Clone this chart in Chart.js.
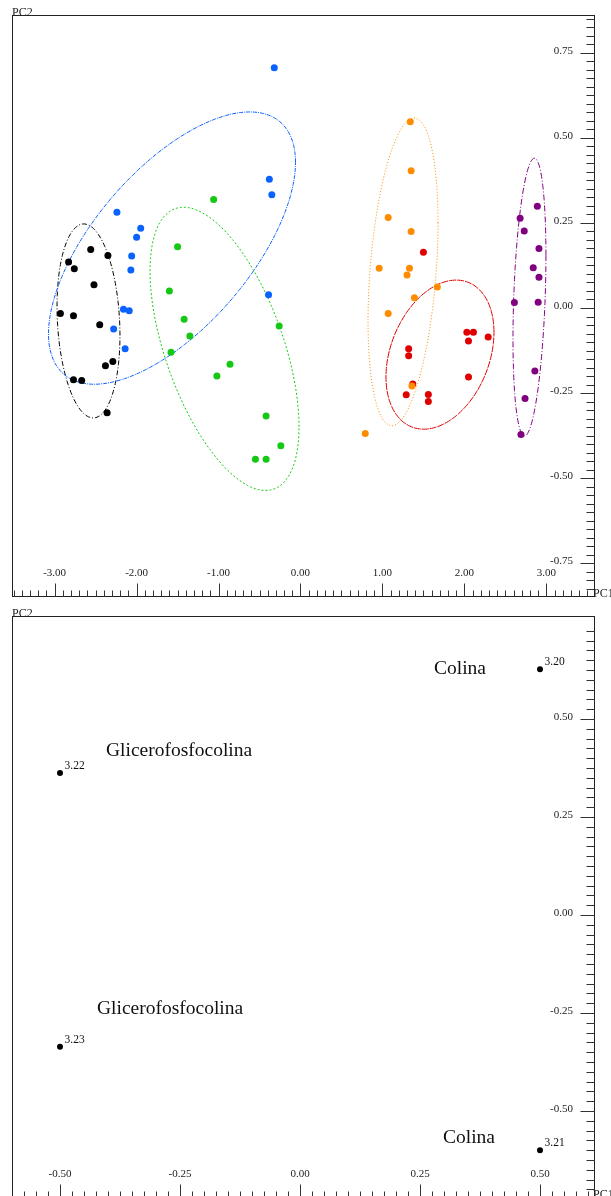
<!DOCTYPE html>
<html>
<head>
<meta charset="utf-8">
<script src="https://cdn.jsdelivr.net/npm/chart.js@4/dist/chart.umd.min.js"></script>
<style>
  html, body { margin: 0; padding: 0; background: #fff; overflow: hidden; width: 611px; height: 1196px; }
  canvas { position: absolute; left: 0; }
  #scores { top: 0; }
  #loadings { top: 600px; }
</style>
</head>
<body>
<canvas id="scores" width="611" height="600"></canvas>
<canvas id="loadings" width="611" height="605"></canvas>
<script>
'use strict';

// scores: PC1 / PC2 per group
const pc1Black = [-2.83, -2.76, -2.56, -2.35, -2.52, -2.93, -2.77, -2.45, -2.29, -2.38, -2.77, -2.67, -2.36];
const pc2Black = [0.135, 0.115, 0.172, 0.154, 0.068, -0.016, -0.023, -0.049, -0.157, -0.170, -0.211, -0.213, -0.308];
const pc1Blue = [-0.32, -0.38, -0.35, -2.24, -1.95, -2.00, -2.06, -2.07, -0.39, -2.16, -2.09, -2.28, -2.14];
const pc2Blue = [0.706, 0.378, 0.333, 0.281, 0.234, 0.208, 0.153, 0.112, 0.039, -0.004, -0.008, -0.062, -0.120];
const pc1Green = [-1.06, -1.50, -1.60, -1.42, -0.26, -1.35, -1.58, -0.86, -1.02, -0.42, -0.24, -0.55, -0.42];
const pc2Green = [0.319, 0.180, 0.050, -0.033, -0.053, -0.082, -0.130, -0.165, -0.200, -0.317, -0.405, -0.444, -0.444];
const pc1Orange = [1.34, 1.35, 1.07, 1.35, 0.96, 1.33, 1.30, 1.67, 1.39, 1.07, 1.36, 0.79];
const pc2Orange = [0.547, 0.403, 0.266, 0.225, 0.117, 0.117, 0.097, 0.062, 0.030, -0.016, -0.229, -0.369];
const pc1Red = [1.50, 2.03, 2.11, 2.05, 2.29, 1.32, 1.32, 2.05, 1.29, 1.56, 1.56, 1.37];
const pc2Red = [0.164, -0.071, -0.071, -0.097, -0.085, -0.120, -0.140, -0.203, -0.255, -0.254, -0.275, -0.223];
const pc1Purple = [2.89, 2.68, 2.73, 2.91, 2.84, 2.91, 2.61, 2.90, 2.86, 2.74, 2.69];
const pc2Purple = [0.299, 0.264, 0.226, 0.175, 0.118, 0.090, 0.016, 0.017, -0.185, -0.266, -0.372];

// confidence ellipses (black, blue, green, orange, red, purple)
const ellipseCx = [-2.587, -1.568, -0.927, 1.251, 1.702, 2.794];
const ellipseCy = [-0.038, 0.176, -0.120, 0.106, -0.137, 0.032];
const ellipseRx = [0.384, 1.507, 0.909, 0.427, 0.659, 0.201];
const ellipseRy = [0.285, 0.400, 0.416, 0.452, 0.219, 0.408];
const ellipseRho = [-0.15, 0.63, -0.55, 0.32, 0.30, 0.30];

// loadings
const loadingIds = ['3.20', '3.21', '3.22', '3.23'];
const loadingNames = ['Colina', 'Colina', 'Glicerofosfocolina', 'Glicerofosfocolina'];
const pc1Loadings = [0.50, 0.50, -0.50, -0.50];
const pc2Loadings = [0.627, -0.600, 0.362, -0.336];

// tick labels
const scoreXTicks = [-3, -2, -1, 0, 1, 2, 3];
const scoreYTicks = [-0.75, -0.5, -0.25, 0, 0.25, 0.5, 0.75];
const loadXTicks = [-0.5, -0.25, 0, 0.25, 0.5];
const loadYTicks = [-0.5, -0.25, 0, 0.25, 0.5];

const SERIF = '"Liberation Serif", "Times New Roman", serif';
const colors = ['#000000', '#0a62ff', '#14c814', '#ff8c00', '#e00000', '#800080'];
const dashes = [[5, 2, 1, 2], [4, 1, 1, 1], [2, 2], [1, 2], [7, 1], [6, 2, 1, 2]];

const toPoints = (xs, ys) => xs.map((x, i) => ({x: x, y: ys[i]}));

// frame, tick marks and labels drawn off the chart's own scales
const axisFrame = {
  id: 'axisFrame',
  afterDraw(chart, args, o) {
    const {ctx, chartArea: a, scales: {x, y}} = chart;
    const near = (v, step) => Math.abs(v / step - Math.round(v / step)) < 1e-6;
    ctx.save();
    ctx.strokeStyle = '#222';
    ctx.lineWidth = 1;
    ctx.strokeRect(a.left + 0.5, a.top + 0.5, a.right - a.left, a.bottom - a.top);

    ctx.strokeStyle = '#333';
    ctx.beginPath();
    for (let i = Math.round(o.xRange[0] / o.xStep); i <= Math.round(o.xRange[1] / o.xStep); i++) {
      const v = i * o.xStep;
      const px = Math.round(x.getPixelForValue(v)) + 0.5;
      const len = near(v, o.xMajor) ? 13 : 6;
      ctx.moveTo(px, a.bottom + 0.5);
      ctx.lineTo(px, a.bottom + 0.5 - len);
    }
    for (let i = Math.round(o.yRange[0] / o.yStep); i <= Math.round(o.yRange[1] / o.yStep); i++) {
      const v = i * o.yStep;
      const py = Math.round(y.getPixelForValue(v)) + 0.5;
      const len = near(v, o.yMajor) ? 14 : 8;
      ctx.moveTo(a.right + 0.5, py);
      ctx.lineTo(a.right + 0.5 - len, py);
    }
    ctx.stroke();

    ctx.fillStyle = '#222';
    ctx.font = '11px ' + SERIF;
    ctx.textBaseline = 'alphabetic';
    ctx.textAlign = 'center';
    o.xTicks.forEach((v) => {
      ctx.fillText(v.toFixed(2), x.getPixelForValue(v), a.bottom - 20);
    });
    ctx.textAlign = 'right';
    o.yTicks.forEach((v) => {
      ctx.fillText(v.toFixed(2), a.right - 21, y.getPixelForValue(v) + 1);
    });

    ctx.font = '12px ' + SERIF;
    ctx.textAlign = 'left';
    ctx.fillText('PC2', a.left, a.top + 1);
    ctx.fillText('PC1', a.right - 1, a.bottom + 1);
    ctx.restore();
  }
};

const ellipses = {
  id: 'ellipses',
  beforeDatasetsDraw(chart) {
    const {ctx, chartArea: a, scales: {x, y}} = chart;
    ctx.save();
    ctx.beginPath();
    ctx.rect(a.left, a.top, a.right - a.left, a.bottom - a.top);
    ctx.clip();
    ctx.lineWidth = 1;
    ellipseCx.forEach((cx, k) => {
      const s = Math.sqrt(1 - ellipseRho[k] * ellipseRho[k]);
      ctx.strokeStyle = colors[k];
      ctx.setLineDash(dashes[k]);
      ctx.beginPath();
      for (let i = 0; i <= 160; i++) {
        const t = i / 160 * Math.PI * 2;
        const vx = cx + ellipseRx[k] * Math.cos(t);
        const vy = ellipseCy[k] + ellipseRy[k] * (ellipseRho[k] * Math.cos(t) + s * Math.sin(t));
        const px = x.getPixelForValue(vx);
        const py = y.getPixelForValue(vy);
        if (i === 0) ctx.moveTo(px, py); else ctx.lineTo(px, py);
      }
      ctx.stroke();
    });
    ctx.restore();
  }
};

// labels next to the loading points
const idOffset = [4.5, -4];
const nameOffsets = [[-106, 5], [-97, -7], [46, -17], [37, -33]];
const loadingLabels = {
  id: 'loadingLabels',
  afterDatasetsDraw(chart) {
    const {ctx, scales: {x, y}} = chart;
    ctx.save();
    ctx.fillStyle = '#111';
    ctx.textAlign = 'left';
    ctx.textBaseline = 'alphabetic';
    pc1Loadings.forEach((v, i) => {
      const px = x.getPixelForValue(v);
      const py = y.getPixelForValue(pc2Loadings[i]);
      ctx.font = '11.5px ' + SERIF;
      ctx.fillText(loadingIds[i], px + idOffset[0], py + idOffset[1]);
      ctx.font = '19.5px ' + SERIF;
      ctx.fillText(loadingNames[i], px + nameOffsets[i][0], py + nameOffsets[i][1]);
    });
    ctx.restore();
  }
};

const baseOptions = (pad, xr, yr, frame) => ({
  responsive: false,
  animation: false,
  layout: {padding: pad},
  scales: {
    x: {type: 'linear', display: false, min: xr[0], max: xr[1]},
    y: {type: 'linear', display: false, min: yr[0], max: yr[1]},
  },
  plugins: {legend: {display: false}, tooltip: {enabled: false}, axisFrame: frame},
});

const dot = (data, color, r) => ({
  data: data,
  backgroundColor: color,
  borderWidth: 0,
  pointRadius: r,
  pointHoverRadius: r,
});

// orange listed before red so it sits on top
new Chart(document.getElementById('scores').getContext('2d'), {
  type: 'scatter',
  data: {
    datasets: [
      dot(toPoints(pc1Orange, pc2Orange), colors[3], 3.5),
      dot(toPoints(pc1Red, pc2Red), colors[4], 3.5),
      dot(toPoints(pc1Purple, pc2Purple), colors[5], 3.5),
      dot(toPoints(pc1Black, pc2Black), colors[0], 3.5),
      dot(toPoints(pc1Blue, pc2Blue), colors[1], 3.5),
      dot(toPoints(pc1Green, pc2Green), colors[2], 3.5),
    ],
  },
  options: baseOptions({left: 12, top: 15, right: 17, bottom: 4}, [-3.5204, 3.5815], [-0.8461, 0.8608], {
    xTicks: scoreXTicks, yTicks: scoreYTicks,
    xStep: 0.1, xMajor: 1, xRange: [-3.5, 3.5],
    yStep: 0.025, yMajor: 0.25, yRange: [-0.825, 0.85],
  }),
  plugins: [ellipses, axisFrame],
});

new Chart(document.getElementById('loadings').getContext('2d'), {
  type: 'scatter',
  data: {
    datasets: [dot(toPoints(pc1Loadings, pc2Loadings), '#000', 3)],
  },
  options: baseOptions({left: 12, top: 16, right: 17, bottom: 8}, [-0.6, 0.6125], [-0.7194, 0.7628], {
    xTicks: loadXTicks, yTicks: loadYTicks,
    xStep: 0.025, xMajor: 0.25, xRange: [-0.575, 0.6],
    yStep: 0.025, yMajor: 0.25, yRange: [-0.7, 0.725],
  }),
  plugins: [loadingLabels, axisFrame],
});
</script>
</body>
</html>
